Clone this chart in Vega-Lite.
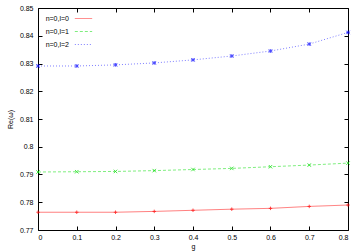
{
  "$schema": "https://vega.github.io/schema/vega-lite/v6.json",
  "width": 310,
  "height": 222,
  "autosize": {"type": "none"},
  "padding": {"left": 38, "top": 8, "right": 12, "bottom": 22},
  "background": "white",
  "config": {
    "view": {"stroke": "black", "strokeWidth": 1},
    "font": "Liberation Sans",
    "axis": {"grid": false, "domain": false, "labelFontSize": 7, "titleFontSize": 7, "labelColor": "#000", "titleColor": "#000", "tickColor": "#000", "titleFontWeight": "normal"}
  },
  "data": {"values": [
    {"s": "n=0,l=0", "g": 0.0, "re": 0.7764},
    {"s": "n=0,l=0", "g": 0.1, "re": 0.7764},
    {"s": "n=0,l=0", "g": 0.2, "re": 0.7764},
    {"s": "n=0,l=0", "g": 0.3, "re": 0.7767},
    {"s": "n=0,l=0", "g": 0.4, "re": 0.7771},
    {"s": "n=0,l=0", "g": 0.5, "re": 0.7775},
    {"s": "n=0,l=0", "g": 0.6, "re": 0.7778},
    {"s": "n=0,l=0", "g": 0.7, "re": 0.7785},
    {"s": "n=0,l=0", "g": 0.8, "re": 0.7790},
    {"s": "n=0,l=1", "g": 0.0, "re": 0.7909},
    {"s": "n=0,l=1", "g": 0.1, "re": 0.7910},
    {"s": "n=0,l=1", "g": 0.2, "re": 0.7911},
    {"s": "n=0,l=1", "g": 0.3, "re": 0.7914},
    {"s": "n=0,l=1", "g": 0.4, "re": 0.7918},
    {"s": "n=0,l=1", "g": 0.5, "re": 0.7922},
    {"s": "n=0,l=1", "g": 0.6, "re": 0.7928},
    {"s": "n=0,l=1", "g": 0.7, "re": 0.7934},
    {"s": "n=0,l=1", "g": 0.8, "re": 0.7941},
    {"s": "n=0,l=2", "g": 0.0, "re": 0.8291},
    {"s": "n=0,l=2", "g": 0.1, "re": 0.8291},
    {"s": "n=0,l=2", "g": 0.2, "re": 0.8295},
    {"s": "n=0,l=2", "g": 0.3, "re": 0.8302},
    {"s": "n=0,l=2", "g": 0.4, "re": 0.8313},
    {"s": "n=0,l=2", "g": 0.5, "re": 0.8327},
    {"s": "n=0,l=2", "g": 0.6, "re": 0.8345},
    {"s": "n=0,l=2", "g": 0.7, "re": 0.8370},
    {"s": "n=0,l=2", "g": 0.8, "re": 0.8412}
  ]},
  "resolve": {"axis": {"x": "independent", "y": "independent"}, "legend": {"color": "independent", "shape": "independent", "strokeDash": "independent"}},
  "layer": [
    {
      "mark": {"type": "line", "strokeWidth": 1, "opacity": 0.5},
      "encoding": {
        "x": {"field": "g", "type": "quantitative", "scale": {"domain": [0, 0.8], "nice": false},
          "axis": {"title": "g", "values": [0, 0.1, 0.2, 0.3, 0.4, 0.5, 0.6, 0.7, 0.8], "format": "~g", "tickSize": -4, "labelPadding": 7, "titlePadding": 2}},
        "y": {"field": "re", "type": "quantitative", "scale": {"domain": [0.77, 0.85], "nice": false, "zero": false},
          "axis": {"title": "Re(ω)", "values": [0.77, 0.78, 0.79, 0.8, 0.81, 0.82, 0.83, 0.84, 0.85], "format": "~g", "tickSize": -4, "labelPadding": 9, "titlePadding": 6}},
        "color": {"field": "s", "type": "nominal", "scale": {"domain": ["n=0,l=0", "n=0,l=1", "n=0,l=2"], "range": ["#ff0000", "#00dd00", "#0000ff"]},
          "legend": {"title": null, "orient": "none", "legendX": 36, "legendY": 1, "labelFontSize": 7, "symbolType": "stroke", "symbolSize": 300, "symbolStrokeWidth": 1, "rowPadding": -1, "labelAlign": "right", "labelOffset": -24, "symbolOpacity": 0.5,
            "encode": {"symbols": {"update": {"shape": {"value": "stroke"}}}}}},
        "strokeDash": {"field": "s", "type": "nominal", "scale": {"domain": ["n=0,l=0", "n=0,l=1", "n=0,l=2"], "range": [[1, 0], [3, 2], [1, 2]]}, "legend": null}
      }
    },
    {
      "mark": {"type": "point", "filled": false, "size": 12, "strokeWidth": 1},
      "encoding": {
        "x": {"field": "g", "type": "quantitative", "scale": {"domain": [0, 0.8], "nice": false},
          "axis": {"orient": "top", "title": null, "labels": false, "values": [0, 0.1, 0.2, 0.3, 0.4, 0.5, 0.6, 0.7, 0.8], "tickSize": -4}},
        "y": {"field": "re", "type": "quantitative", "scale": {"domain": [0.77, 0.85], "nice": false, "zero": false},
          "axis": {"orient": "right", "title": null, "labels": false, "values": [0.77, 0.78, 0.79, 0.8, 0.81, 0.82, 0.83, 0.84, 0.85], "tickSize": -4}},
        "color": {"field": "s", "type": "nominal", "legend": null},
        "shape": {"field": "s", "type": "nominal", "scale": {"domain": ["n=0,l=0", "n=0,l=1", "n=0,l=2"], "range": ["M-1,0H1M0,-1V1", "M-1,-1L1,1M-1,1L1,-1", "M-1,0H1M0,-1V1M-1,-1L1,1M-1,1L1,-1"]}, "legend": null}
      }
    }
  ]
}
